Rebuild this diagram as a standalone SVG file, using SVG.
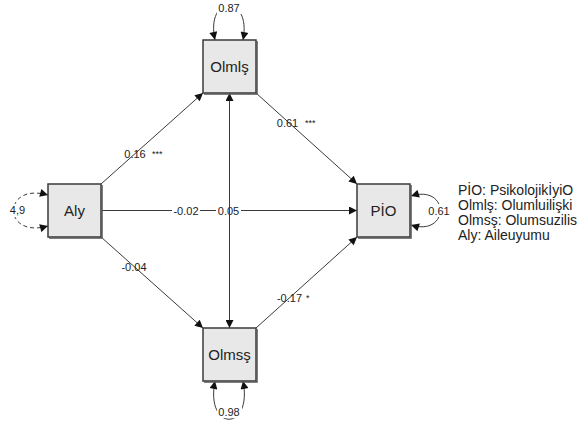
<svg xmlns="http://www.w3.org/2000/svg" width="588" height="424" viewBox="0 0 588 424">
<style>
.box{fill:#e8e8e8;stroke:#3a3a3a;stroke-width:1.5}
.shadow{fill:none;stroke:#555;stroke-width:1.5}
.lbl{font-family:"Liberation Sans",Arial,sans-serif;font-size:15px;fill:#222;text-anchor:middle}
.num{font-family:"Liberation Sans",Arial,sans-serif;font-size:11px;fill:#222;text-anchor:middle}
.star{font-family:"Liberation Sans",Arial,sans-serif;font-size:9px;fill:#222}
.leg{font-family:"Liberation Sans",Arial,sans-serif;font-size:14px;fill:#222}
.ln{fill:none;stroke:#3a3a3a;stroke-width:1}
.loop{fill:none;stroke:#3a3a3a;stroke-width:1}
</style>
<defs>
<marker id="ah" viewBox="0 0 10 10" refX="10" refY="5" markerWidth="9" markerHeight="8" markerUnits="userSpaceOnUse" orient="auto-start-reverse">
<path d="M0,0 L10,5 L0,10 z" fill="#111"/>
</marker>
</defs>
<rect width="588" height="424" fill="#fff"/>
<g id="connectors">
<line class="ln" x1="101" y1="184" x2="203" y2="93" marker-end="url(#ah)"/>
<line class="ln" x1="101" y1="237" x2="203" y2="328" marker-end="url(#ah)"/>
<line class="ln" x1="256" y1="93" x2="357" y2="184" marker-end="url(#ah)"/>
<line class="ln" x1="256" y1="328" x2="357" y2="237" marker-end="url(#ah)"/>
<line class="ln" x1="101" y1="210.5" x2="357" y2="210.5" stroke="#111" marker-end="url(#ah)"/>
<rect x="172" y="204" width="28" height="13" fill="#fff"/>
<rect x="216" y="204" width="25" height="13" fill="#fff"/>
<text class="num" x="186" y="214.5">-0.02</text>
<text class="num" x="228.5" y="214.5">0.05</text>
<line class="ln" x1="229.5" y1="93" x2="229.5" y2="328" stroke="#777" marker-start="url(#ah)" marker-end="url(#ah)"/>
<text class="num" x="135" y="158">0.16</text><text class="star" x="152" y="157">***</text>
<text class="num" x="134" y="271">-0.04</text>
<text class="num" x="287.5" y="127">0.61</text><text class="star" x="305" y="126">***</text>
<text class="num" x="289.5" y="302">-0.17</text><text class="star" x="306" y="301">*</text>
<path class="loop" d="M215,40 C205,-6 252,-6 243,40" marker-start="url(#ah)" marker-end="url(#ah)"/>
<rect x="217" y="2" width="25" height="12" fill="#fff"/>
<text class="num" x="229" y="12">0.87</text>
<path class="loop" d="M215,381 C205,432 253,432 243,381" marker-start="url(#ah)" marker-end="url(#ah)"/>
<rect x="217" y="406" width="25" height="12" fill="#fff"/>
<text class="num" x="229" y="416">0.98</text>
<path class="loop" d="M411,196 C450,184 450,237 411,225" marker-start="url(#ah)" marker-end="url(#ah)"/>
<rect x="427" y="204" width="24" height="13" fill="#fff"/>
<text class="num" x="439" y="215">0.61</text>
<path class="loop" d="M48,195 C2,182 2,239 48,226" stroke-dasharray="4,3" marker-start="url(#ah)" marker-end="url(#ah)"/>
<rect x="7" y="204" width="20" height="13" fill="#fff"/>
<text class="num" x="17.5" y="214">4,9</text>
</g>
<g id="olmis">
<rect class="box" x="203" y="40" width="53" height="53"/>
<polyline class="shadow" points="257,41 257,94 204,94"/>
<text class="lbl" x="229.5" y="72">Olmlş</text>
</g>
<g id="aly">
<rect class="box" x="48" y="184" width="53" height="53"/>
<polyline class="shadow" points="102,185 102,238 49,238"/>
<text class="lbl" x="74.5" y="216">Aly</text>
</g>
<g id="pio">
<rect class="box" x="357" y="184" width="53" height="53"/>
<polyline class="shadow" points="411,185 411,238 358,238"/>
<text class="lbl" x="383.5" y="216">PİO</text>
</g>
<g id="olmss">
<rect class="box" x="203" y="328" width="53" height="53"/>
<polyline class="shadow" points="257,329 257,382 204,382"/>
<text class="lbl" x="229.5" y="360">Olmsş</text>
</g>
<g id="legend">
<text class="leg" x="458" y="195">PİO: PsikolojikİyiO</text>
<text class="leg" x="458" y="210">Olmlş: Olumluilişki</text>
<text class="leg" x="458" y="225">Olmsş: Olumsuzilis</text>
<text class="leg" x="458" y="240">Aly: Aileuyumu</text>
</g>
</svg>
